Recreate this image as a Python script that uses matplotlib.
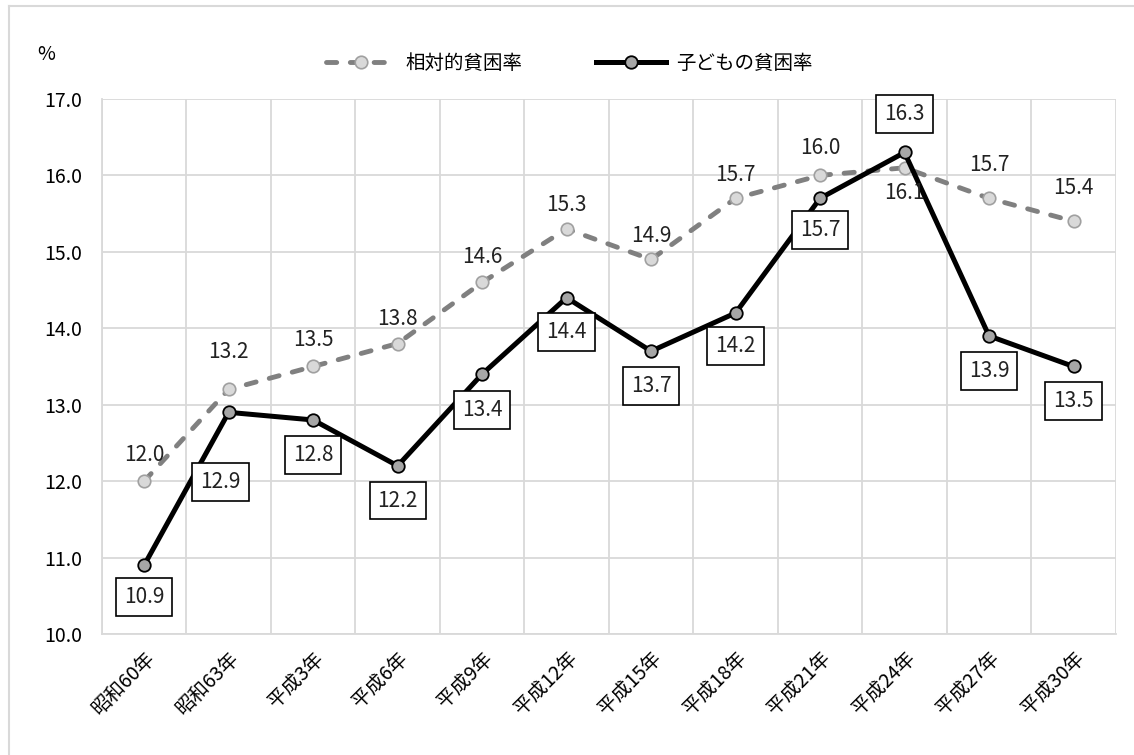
import matplotlib.pyplot as plt
from matplotlib.lines import Line2D
import numpy as np

plt.rcParams['font.family'] = ['Noto Sans CJK JP', 'DejaVu Sans']

years = ["昭和60年", "昭和63年", "平成3年", "平成6年", "平成9年", "平成12年",
         "平成15年", "平成18年", "平成21年", "平成24年", "平成27年", "平成30年"]
relative = [12.0, 13.2, 13.5, 13.8, 14.6, 15.3, 14.9, 15.7, 16.0, 16.1, 15.7, 15.4]
child = [10.9, 12.9, 12.8, 12.2, 13.4, 14.4, 13.7, 14.2, 15.7, 16.3, 13.9, 13.5]

# label offsets in points (dx, dy) relative to the marker
relative_off = [(0, 19), (0, 27), (0, 19), (0, 18), (0, 18), (0, 17),
                (0, 17), (0, 17), (0, 20), (0, -18), (0, 24), (0, 24)]
child_off = [(0, -23), (-6, -50), (0, -25), (0, -25), (0, -26), (0, -25),
             (0, -25), (0, -24), (0, -23), (0, 28), (0, -25), (0, -25)]

fig = plt.figure(figsize=(11.34, 7.55), dpi=100)
ax = fig.add_axes([0.0899, 0.1603, 0.894, 0.7086])

x = np.arange(len(years))

ax.plot(x, relative, color="#808080", lw=3.5, dashes=(2.1, 2.8),
        dash_capstyle="round", marker="o", markersize=9,
        markerfacecolor="#d9d9d9", markeredgecolor="#a0a0a0",
        markeredgewidth=1.2, label="相対的貧困率", zorder=3)
ax.plot(x, child, color="black", lw=3.6, marker="o", markersize=9,
        markerfacecolor="#a6a6a6", markeredgecolor="black",
        markeredgewidth=1.3, label="子どもの貧困率", zorder=4)

for xi, v, off in zip(x, relative, relative_off):
    ax.annotate(f"{v:.1f}", (xi, v), xytext=off, textcoords="offset points",
                ha="center", va="center", fontsize=15, color="#222222", zorder=5)

for xi, v, off in zip(x, child, child_off):
    ax.annotate(f"{v:.1f}", (xi, v), xytext=off, textcoords="offset points",
                ha="center", va="center", fontsize=15, color="#222222", zorder=6,
                bbox=dict(boxstyle="square,pad=0.38", fc="white", ec="black", lw=1.2))

ax.set_xlim(-0.5, len(years) - 0.5)
ax.set_ylim(10, 17)
ticks = np.arange(10, 17.1, 1)
ax.set_yticks(ticks)
ax.set_yticklabels([f"{t:.1f}" for t in ticks], fontsize=14)
ax.set_xticks(x)
ax.set_xticklabels(years, rotation=45, ha="right", rotation_mode="anchor", fontsize=14)
ax.set_xticks(np.arange(-0.5, len(years), 1), minor=True)
ax.tick_params(axis="y", which="both", length=0, pad=14)
ax.tick_params(axis="x", which="both", length=0, pad=10)
ax.grid(axis="y", which="major", color="#d9d9d9", lw=1.3)
ax.grid(axis="x", which="minor", color="#d9d9d9", lw=1.3)
for side in ["top", "right"]:
    ax.spines[side].set_visible(False)
ax.spines["left"].set_color("#d9d9d9")
ax.spines["bottom"].set_color("#d9d9d9")
ax.spines["left"].set_linewidth(1.3)
ax.spines["bottom"].set_linewidth(1.3)
ax.set_axisbelow(True)

fig.text(0.033, 0.928, "%", fontsize=14, ha="left", va="center")

fig.legend(loc="center", bbox_to_anchor=(0.502, 0.916), ncol=2, frameon=False,
           fontsize=14, handlelength=3.6, columnspacing=3.8, handletextpad=0.5)

# chart-area border (right and bottom edges fall outside the image)
border = dict(color="#d9d9d9", lw=1.5, transform=fig.transFigure)
fig.add_artist(Line2D([0.008, 0.008], [0.0, 0.992], **border))
fig.add_artist(Line2D([0.008, 1.0], [0.992, 0.992], **border))

fig.savefig("out.png", dpi=100)
